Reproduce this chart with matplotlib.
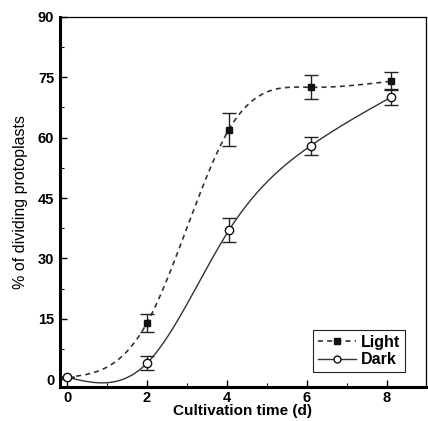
import matplotlib
matplotlib.use("Agg")
import matplotlib.pyplot as plt
import numpy as np
from matplotlib.ticker import MultipleLocator

plt.rcParams['font.family'] = ['Liberation Sans', 'DejaVu Sans']

days_light = [0.0, 2.0, 4.05, 6.1, 8.1]
light = [0.5, 14.0, 62.0, 72.5, 74.0]
light_err = [0.0, 2.3, 4.0, 3.0, 2.2]

days_dark = [0.0, 2.0, 4.05, 6.1, 8.1]
dark = [0.5, 4.0, 37.0, 58.0, 70.0]
dark_err = [0.0, 1.7, 3.0, 2.2, 2.0]


def natural_spline(x, y, n=300):
    x = np.asarray(x, float)
    y = np.asarray(y, float)
    k = len(x)
    h = np.diff(x)
    A = np.zeros((k, k))
    b = np.zeros(k)
    A[0, 0] = A[-1, -1] = 1
    for i in range(1, k - 1):
        A[i, i - 1] = h[i - 1]
        A[i, i] = 2 * (h[i - 1] + h[i])
        A[i, i + 1] = h[i]
        b[i] = 6 * ((y[i + 1] - y[i]) / h[i] - (y[i] - y[i - 1]) / h[i - 1])
    M = np.linalg.solve(A, b)
    xs = np.linspace(x[0], x[-1], n)
    idx = np.clip(np.searchsorted(x, xs) - 1, 0, k - 2)
    x0, x1 = x[idx], x[idx + 1]
    hh = x1 - x0
    ys = (M[idx] * (x1 - xs) ** 3 / (6 * hh) + M[idx + 1] * (xs - x0) ** 3 / (6 * hh)
          + (y[idx] / hh - M[idx] * hh / 6) * (x1 - xs)
          + (y[idx + 1] / hh - M[idx + 1] * hh / 6) * (xs - x0))
    return xs, ys


fig = plt.figure(figsize=(4.28, 4.21), dpi=100)
ax = fig.add_axes([0.140, 0.080, 0.855, 0.880])

xs, ys = natural_spline(days_light, light)
ax.plot(xs, ys, color='#333333', ls=(0, (3, 2.5)), lw=1.2)
xs, ys = natural_spline(days_dark, dark)
ax.plot(xs, ys, color='#333333', ls='-', lw=1.0)

ax.errorbar(days_light, light, yerr=light_err, fmt='none', ecolor='#222222',
            elinewidth=1.0, capsize=5, capthick=1.0)
ax.errorbar(days_dark, dark, yerr=dark_err, fmt='none', ecolor='#222222',
            elinewidth=1.0, capsize=5, capthick=1.0)
ax.plot(days_light, light, 's', color='#111111', ms=5, zorder=5)
ax.plot(days_dark, dark, 'o', mfc='white', mec='#111111', mew=1.0, ms=6, zorder=5)

# legend handles
ax.plot([], [], color='#333333', ls=(0, (3, 2.5)), lw=1.2, marker='s',
        ms=4, mfc='#111111', mec='#111111', label='Light')
ax.plot([], [], color='#333333', ls='-', lw=1.0, marker='o',
        ms=5, mfc='white', mec='#111111', label='Dark')
handles, labels = ax.get_legend_handles_labels()
leg = ax.legend(handles, labels, loc='lower right', bbox_to_anchor=(0.965, 0.02),
                fancybox=False, edgecolor='#222222', framealpha=1,
                handlelength=2.4, borderpad=0.3, labelspacing=0.15,
                handletextpad=0.3, prop={'size': 11.5, 'weight': 'bold'})
leg.get_frame().set_linewidth(0.8)

ax.set_xlim(-0.18, 8.98)
ax.set_ylim(-2, 90)
ax.xaxis.set_major_locator(MultipleLocator(2))
ax.xaxis.set_minor_locator(MultipleLocator(1))
ax.yaxis.set_major_locator(MultipleLocator(15))
ax.yaxis.set_minor_locator(MultipleLocator(7.5))
ax.tick_params(which='both', direction='in', top=False, right=False)
ax.tick_params(which='major', length=5, width=1.0, labelsize=10.5, pad=4)
ax.tick_params(axis='x', which='major', pad=3)
ax.tick_params(which='minor', length=3, width=0.8)
for lab in ax.get_xticklabels() + ax.get_yticklabels():
    lab.set_fontweight('bold')

ax.spines['left'].set_linewidth(2.2)
ax.spines['bottom'].set_linewidth(2.2)
ax.spines['top'].set_linewidth(0.9)
ax.spines['right'].set_linewidth(0.9)

ax.set_xlabel('Cultivation time (d)', fontsize=11, fontweight='bold', labelpad=-1)
ax.set_ylabel('% of dividing protoplasts', fontsize=11.5, fontstretch='condensed',
              labelpad=7)

fig.savefig('out.png', dpi=100)
